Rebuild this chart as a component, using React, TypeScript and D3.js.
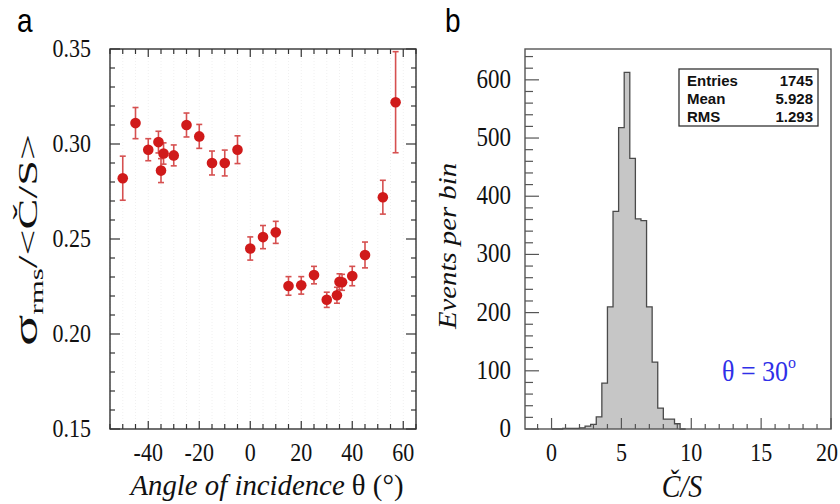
import React from "react";
import * as d3 from "d3";

// Panel a data
const angleDeg = [-50, -45, -40, -36, -35, -34, -30, -25, -20, -15, -10, -5, 0, 5, 10, 15, 20, 25, 30, 34, 35, 36, 40, 45, 52, 57];
const sigmaOverMean = [0.282, 0.311, 0.297, 0.301, 0.286, 0.295, 0.294, 0.310, 0.304, 0.290, 0.290, 0.297, 0.245, 0.251, 0.2535, 0.2253, 0.2256, 0.231, 0.218, 0.2204, 0.2275, 0.2272, 0.2305, 0.2416, 0.272, 0.322];
const sigmaErr = [0.0116, 0.0082, 0.0058, 0.0057, 0.0063, 0.0056, 0.0055, 0.0063, 0.0063, 0.0063, 0.0068, 0.0073, 0.0061, 0.0061, 0.0058, 0.0049, 0.0046, 0.0046, 0.004, 0.0042, 0.0042, 0.0042, 0.0051, 0.0068, 0.0089, 0.0266];

// Panel b histogram
const binLow = [0.0, 0.4, 0.8, 1.2, 1.6, 2.0, 2.4, 2.8, 3.2, 3.6, 4.0, 4.4, 4.8, 5.2, 5.6, 6.0, 6.4, 6.8, 7.2, 7.6, 8.0, 8.4, 8.8, 9.2];
const binCounts = [0, 0, 1, 1, 1, 2, 5, 8, 21, 79, 210, 374, 518, 613, 465, 361, 358, 210, 115, 36, 17, 17, 9, 0];
const BIN_WIDTH = 0.4;

// Tick labels
const leftYTickValues = [0.15, 0.2, 0.25, 0.3, 0.35];
const leftYTickLabels = ["0.15", "0.20", "0.25", "0.30", "0.35"];
const leftXTickValues = [-40, -20, 0, 20, 40, 60];
const rightYTickValues = [0, 100, 200, 300, 400, 500, 600];
const rightXTickValues = [0, 5, 10, 15, 20];
const statsLabels = ["Entries", "Mean", "RMS"];
const statsValues = ["1745", "5.928", "1.293"];

const SERIF = "'Liberation Serif', 'Times New Roman', Times, serif";
const SANS = "'Liberation Sans', Arial, Helvetica, sans-serif";
const SY = 1.18;

function T(props: any) {
  const { x, y, sy = SY, children, ...rest } = props;
  return (
    <text transform={`translate(${x},${y}) scale(1,${sy})`} {...rest}>
      {children}
    </text>
  );
}

export default function App() {
  const L = { x0: 110, x1: 416, y0: 49, y1: 429 };
  const R = { x0: 525, x1: 831, y0: 49, y1: 429 };
  const xL = d3.scaleLinear().domain([-55, 65]).range([L.x0, L.x1]);
  const yL = d3.scaleLinear().domain([0.15, 0.35]).range([L.y1, L.y0]);
  const xR = d3.scaleLinear().domain([-1.9, 20]).range([R.x0, R.x1]);
  const yR = d3.scaleLinear().domain([0, 653]).range([R.y1, R.y0]);

  const leftFrame = "#333";
  const rightFrame = "#555";

  const lxMinor = d3.range(-55, 66, 5);
  const lyMinor = d3.range(15, 36, 1).map((v) => v / 100);
  const isMajorY = (v: number) => Math.abs(Math.round(v * 100) % 5) === 0;

  const rxMinor = d3.range(-1, 21, 1);
  const ryMinor = d3.range(0, 653, 20);

  const pts: [number, number][] = [[binLow[0], 0]];
  binLow.forEach((b, i) => pts.push([b, binCounts[i]]));
  pts.push([binLow[binLow.length - 1] + BIN_WIDTH, 0]);
  const stepLine = d3
    .line<[number, number]>()
    .x((d) => xR(d[0]))
    .y((d) => yR(d[1]))
    .curve(d3.curveStepAfter);
  const stepArea = d3
    .area<[number, number]>()
    .x((d) => xR(d[0]))
    .y0(yR(0))
    .y1((d) => yR(d[1]))
    .curve(d3.curveStepAfter);

  const red = "#d01a1a";
  const errRed = "#d65050";

  return (
    <svg
      width={840}
      height={504}
      style={{ position: "absolute", left: 0, top: 0, background: "#fff" }}
    >
      <rect x={0} y={0} width={840} height={504} fill="#fff" />

      {/* ---------- Panel a ---------- */}
      <T x={17} y={32} fontFamily={SANS} fontSize={28}>a</T>

      {lxMinor.map((v) => (
        <line key={"g" + v} x1={xL(v)} x2={xL(v)} y1={L.y0} y2={L.y1} stroke="#ececec" strokeWidth={0.8} strokeDasharray="1,2" />
      ))}

      <rect x={L.x0} y={L.y0} width={L.x1 - L.x0} height={L.y1 - L.y0} fill="none" stroke={leftFrame} strokeWidth={1.4} />

      {lxMinor.map((v) => {
        const len = leftXTickValues.includes(v) ? 8 : 5;
        return (
          <g key={"lx" + v}>
            <line x1={xL(v)} x2={xL(v)} y1={L.y1} y2={L.y1 - len} stroke={leftFrame} strokeWidth={1.2} />
            <line x1={xL(v)} x2={xL(v)} y1={L.y0} y2={L.y0 + len} stroke={leftFrame} strokeWidth={1.2} />
          </g>
        );
      })}
      {lyMinor.map((v) => {
        const len = isMajorY(v) ? 10 : 5;
        return (
          <g key={"ly" + v}>
            <line x1={L.x0} x2={L.x0 + len} y1={yL(v)} y2={yL(v)} stroke={leftFrame} strokeWidth={1.2} />
            <line x1={L.x1} x2={L.x1 - len} y1={yL(v)} y2={yL(v)} stroke={leftFrame} strokeWidth={1.2} />
          </g>
        );
      })}

      {leftYTickValues.map((v, i) => (
        <T key={"lyl" + v} x={91} y={yL(v) + 8} fontFamily={SERIF} fontSize={22} textAnchor="end" fill="#111">
          {leftYTickLabels[i]}
        </T>
      ))}
      {leftXTickValues.map((v) => (
        <T key={"lxl" + v} x={xL(v)} y={461} fontFamily={SERIF} fontSize={22} textAnchor="middle" fill="#111">
          {String(v)}
        </T>
      ))}

      {angleDeg.map((a, i) => {
        const cx = xL(a);
        const yt = yL(sigmaOverMean[i] + sigmaErr[i]);
        const yb = yL(sigmaOverMean[i] - sigmaErr[i]);
        return (
          <g key={"e" + i}>
            <line x1={cx} x2={cx} y1={yt} y2={yb} stroke={errRed} strokeWidth={1.6} />
            <line x1={cx - 3} x2={cx + 3} y1={yt} y2={yt} stroke={errRed} strokeWidth={1.6} />
            <line x1={cx - 3} x2={cx + 3} y1={yb} y2={yb} stroke={errRed} strokeWidth={1.6} />
          </g>
        );
      })}
      {angleDeg.map((a, i) => (
        <circle key={"p" + i} cx={xL(a)} cy={yL(sigmaOverMean[i])} r={5.3} fill={red} />
      ))}

      {/* y label a */}
      <g transform={`translate(37,240) rotate(-90)`}>
        <text
          fontFamily={SERIF}
          fontSize={27}
          textAnchor="middle"
          fill="#111"
          textLength={212}
          lengthAdjust="spacingAndGlyphs"
        >
          <tspan fontSize={34}>σ</tspan>
          <tspan fontSize={18} dy={6}>rms</tspan>
          <tspan dy={-6}>/&lt;Č/S&gt;</tspan>
        </text>
      </g>

      {/* x label a */}
      <T x={267} y={495} sy={1.12} fontFamily={SERIF} fontSize={27} fontStyle="italic" textAnchor="middle" fill="#111" textLength={273} lengthAdjust="spacingAndGlyphs">
        Angle of incidence <tspan fontStyle="normal">θ (°)</tspan>
      </T>

      {/* ---------- Panel b ---------- */}
      <T x={445} y={32} fontFamily={SANS} fontSize={28}>b</T>

      <path d={stepArea(pts) || ""} fill="#c6c6c6" stroke="none" />
      <path d={stepLine(pts) || ""} fill="none" stroke="#4a4a4a" strokeWidth={1.3} />

      <rect x={R.x0} y={R.y0} width={R.x1 - R.x0} height={R.y1 - R.y0} fill="none" stroke={rightFrame} strokeWidth={1.4} />

      {ryMinor.map((v) => {
        const len = v % 100 === 0 ? 14 : 8;
        return <line key={"ry" + v} x1={R.x0} x2={R.x0 + len} y1={yR(v)} y2={yR(v)} stroke={rightFrame} strokeWidth={1.2} />;
      })}
      {rxMinor.map((v) => {
        const len = v % 5 === 0 ? 11 : 5;
        return <line key={"rx" + v} x1={xR(v)} x2={xR(v)} y1={R.y1} y2={R.y1 - len} stroke={rightFrame} strokeWidth={1.2} />;
      })}

      {rightYTickValues.map((v) => (
        <T key={"ryl" + v} x={511} y={yR(v) + 8} fontFamily={SERIF} fontSize={23} textAnchor="end" fill="#111">
          {String(v)}
        </T>
      ))}
      {rightXTickValues.map((v) => (
        <T key={"rxl" + v} x={v === 20 ? 838 : xR(v)} y={461} fontFamily={SERIF} fontSize={22} textAnchor={v === 20 ? "end" : "middle"} fill="#111">
          {String(v)}
        </T>
      ))}

      {/* stats box */}
      <rect x={679} y={69} width={139} height={57} fill="#fff" stroke="#333" strokeWidth={1.3} />
      {statsLabels.map((s, i) => (
        <g key={"st" + i}>
          <text x={687} y={86 + i * 18} fontFamily={SANS} fontWeight="bold" fontSize={15} fill="#111">{s}</text>
          <text x={813} y={86 + i * 18} fontFamily={SANS} fontWeight="bold" fontSize={15} textAnchor="end" fill="#111">{statsValues[i]}</text>
        </g>
      ))}

      {/* theta annotation */}
      <T x={722} y={381} sy={1.1} fontFamily={SERIF} fontSize={26} fill="#2f2fe8">
        θ = 30<tspan fontSize={16} dy={-12}>o</tspan>
      </T>

      {/* y label b */}
      <g transform={`translate(456,246) rotate(-90)`}>
        <text fontFamily={SERIF} fontSize={26} fontStyle="italic" textAnchor="middle" fill="#111" textLength={166} lengthAdjust="spacingAndGlyphs">
          Events per bin
        </text>
      </g>

      {/* x label b */}
      <T x={682} y={497} sy={1.12} fontFamily={SERIF} fontSize={28} fontStyle="italic" textAnchor="middle" fill="#111">
        Č/S
      </T>
    </svg>
  );
}
